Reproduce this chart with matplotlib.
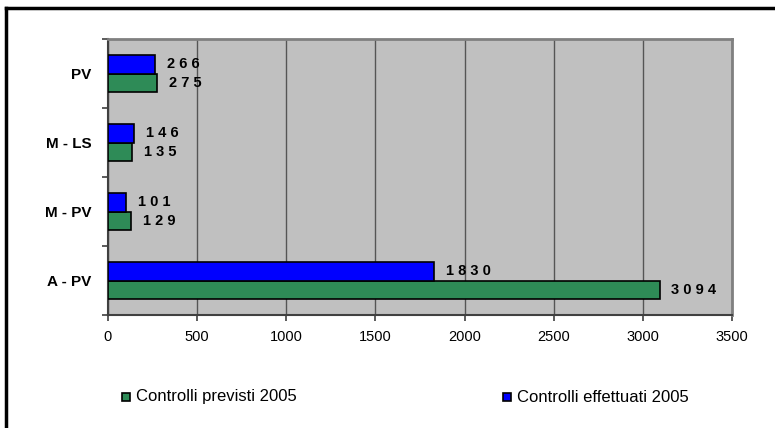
import numpy as np
import matplotlib
matplotlib.use("Agg")
import matplotlib.pyplot as plt
from matplotlib.patches import Rectangle

categories = ["A - PV", "M - PV", "M - LS", "PV"]
previsti = [3094, 129, 135, 275]
effettuati = [1830, 101, 146, 266]
lbl_previsti = ["3 0 9 4", "1 2 9", "1 3 5", "2 7 5"]
lbl_effettuati = ["1 8 3 0", "1 0 1", "1 4 6", "2 6 6"]

plt.rcParams["font.family"] = ["Liberation Sans", "DejaVu Sans"]

W, H = 775, 428
fig = plt.figure(figsize=(W / 100, H / 100), dpi=100)
# plot area in pixels: x 108..732, y 39..315
ax = fig.add_axes([108 / W, 1 - 315 / H, (732 - 108) / W, (315 - 39) / H])
ax.set_facecolor("#c0c0c0")

y = np.arange(len(categories))
h = 0.275
green = "#2e8b57"
blue = "#0000ff"
ax.barh(y - h / 2, previsti, height=h, color=green, edgecolor="black", linewidth=1.2, zorder=3)
ax.barh(y + h / 2, effettuati, height=h, color=blue, edgecolor="black", linewidth=1.2, zorder=3)

for i in range(len(categories)):
    ax.text(previsti[i] + 65, y[i] - h / 2, lbl_previsti[i], va="center", ha="left",
            fontsize=10.5, fontweight="bold")
    ax.text(effettuati[i] + 65, y[i] + h / 2, lbl_effettuati[i], va="center", ha="left",
            fontsize=10.5, fontweight="bold")

ax.set_xlim(0, 3500)
ax.set_ylim(-0.5, 3.5)
ax.set_xticks(np.arange(0, 3501, 500))
ax.set_yticks(np.arange(-0.5, 3.6, 1), minor=False)
ax.set_yticklabels([])
ax.set_yticks(y, minor=True)
ax.set_yticklabels(categories, minor=True, fontsize=11, fontweight="bold")
ax.tick_params(axis="y", which="minor", length=0, pad=12)
ax.tick_params(axis="y", which="major", length=4, direction="out", color="#404040", width=1.2)
ax.tick_params(axis="x", length=4, direction="out", labelsize=10.5, pad=7, color="#404040", width=1.2)
ax.grid(axis="x", color="#555555", linewidth=1, zorder=1)
for side in ["top", "right"]:
    ax.spines[side].set_color("#808080")
    ax.spines[side].set_linewidth(2)
for side in ["left", "bottom"]:
    ax.spines[side].set_color("#404040")
    ax.spines[side].set_linewidth(1.5)

# legend entries
for px, col, txt in [(122, green, "Controlli previsti 2005"), (503, blue, "Controlli effettuati 2005")]:
    fig.patches.append(Rectangle((px / W, 1 - 401 / H), 8 / W, 8 / H, transform=fig.transFigure,
                                 facecolor=col, edgecolor="black", linewidth=1.2))
    fig.text((px + 14) / W, 1 - 397 / H, txt, fontsize=12, va="center", ha="left")

# outer border
fig.add_artist(plt.Line2D([6 / W, 6 / W], [0, 1 - 8 / H], color="black", linewidth=2.5, transform=fig.transFigure))
fig.add_artist(plt.Line2D([6 / W, 1], [1 - 8 / H, 1 - 8 / H], color="black", linewidth=2.5, transform=fig.transFigure))

fig.savefig("out.png", dpi=100)
